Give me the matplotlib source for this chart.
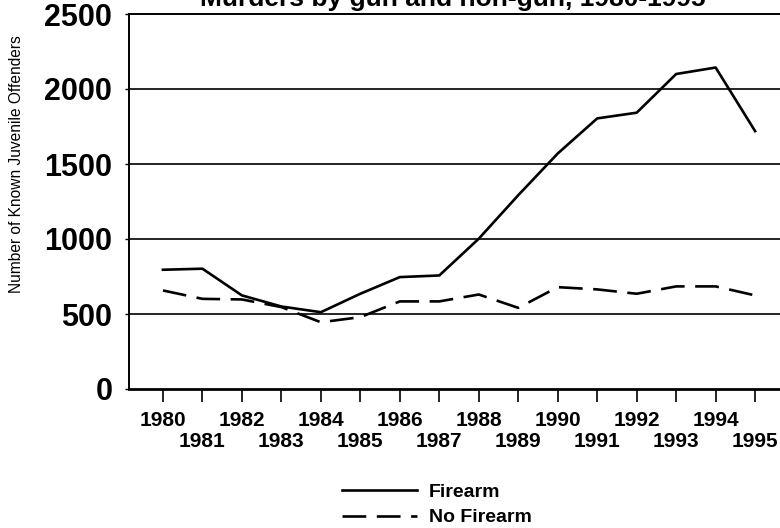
import numpy as np
import matplotlib.pyplot as plt

plt.rcParams['font.family'] = ['Liberation Sans', 'DejaVu Sans']

years = list(range(1980, 1996))
firearm = [795, 802, 624, 550, 512, 635, 746, 757, 1002, 1292, 1570, 1804, 1842, 2100, 2143, 1719]
no_firearm = [657, 601, 597, 546, 445, 479, 584, 584, 630, 541, 679, 664, 635, 684, 684, 624]
y_ticks = [0, 500, 1000, 1500, 2000, 2500]

fig = plt.figure(figsize=(7.8, 5.28), dpi=100)
ax = fig.add_axes([129 / 780, 1 - 389 / 528, 1 - 129 / 780, (389 - 14) / 528])

for v in y_ticks[1:-1]:
    ax.axhline(v, color='black', lw=1.2, zorder=1)

ax.plot(years, firearm, color='black', lw=1.9, label='Firearm', zorder=3)
ax.plot(years, no_firearm, color='black', lw=1.9, dashes=(9, 4), label='No Firearm', zorder=3)

ax.set_xlim(1979.14, 1995.63)
ax.set_ylim(0, 2500)
ax.spines['right'].set_visible(False)
ax.spines['top'].set_linewidth(1.4)
ax.spines['left'].set_linewidth(1.4)
ax.spines['bottom'].set_linewidth(2)

ax.set_yticks(y_ticks)
ax.set_yticklabels([str(v) for v in y_ticks], fontsize=22, fontweight='bold')
ax.tick_params(axis='y', length=3, width=1, pad=9)

# even years on major ticks, odd years on minor ticks one row lower
even = [y for y in years if y % 2 == 0]
odd = [y for y in years if y % 2 == 1]
ax.set_xticks(even)
ax.set_xticklabels([str(y) for y in even], fontsize=15, fontweight='bold')
ax.set_xticks(odd, minor=True)
ax.set_xticklabels([str(y) for y in odd], minor=True, fontsize=15, fontweight='bold')
ax.tick_params(axis='x', which='major', length=9, width=1.2, pad=7, direction='out')
ax.tick_params(axis='x', which='minor', length=9, width=1.2, pad=22, direction='out')

fig.text(17 / 780, 1 - 164 / 528, 'Number of Known Juvenile Offenders', rotation=90,
         ha='center', va='center', fontsize=11.2)

fig.text(0.58, 1 - 6 / 528, 'Murders by gun and non-gun, 1980-1995', ha='center',
         va='baseline', fontsize=19, fontweight='bold')

leg = fig.legend(loc='upper left', bbox_to_anchor=(324 / 780, 1 - 466 / 528), frameon=False,
                 prop={'size': 14, 'weight': 'bold'}, handlelength=3.9, handletextpad=0.6,
                 labelspacing=0.4)

plt.savefig('out.png')
plt.close()
